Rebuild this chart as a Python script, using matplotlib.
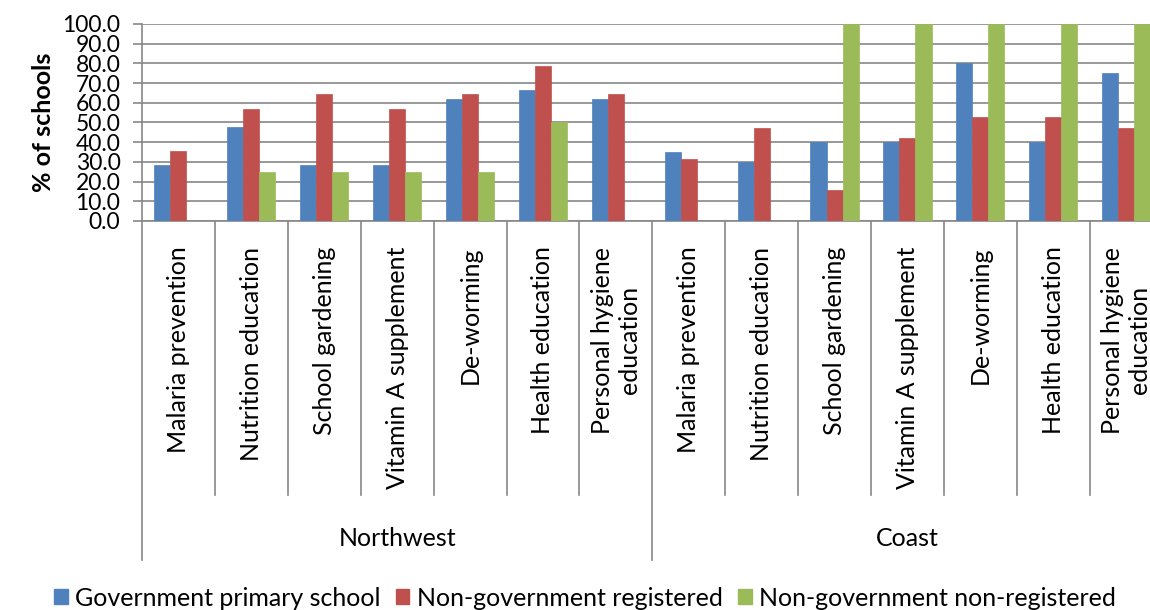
import numpy as np
import matplotlib
matplotlib.use("Agg")
import matplotlib.pyplot as plt
from matplotlib.patches import Patch

plt.rcParams['font.family'] = ['Lato', 'DejaVu Sans']

# Interventions shown for each region
activities = ["Malaria prevention", "Nutrition education", "School gardening",
              "Vitamin A supplement", "De-worming", "Health education",
              "Personal hygiene\neducation"]
regions = ["Northwest", "Coast"]

series_names = ["Government primary school", "Non-government registered",
                "Non-government non-registered"]

# % of schools offering each intervention (Northwest first, then Coast)
gov_primary = [28.6, 47.6, 28.6, 28.6, 61.9, 66.7, 61.9,
               35.0, 30.0, 40.0, 40.0, 80.0, 40.0, 75.0]
ngo_registered = [35.7, 57.1, 64.3, 57.1, 64.3, 78.6, 64.3,
                  31.6, 47.4, 15.8, 42.1, 52.6, 52.6, 47.4]
ngo_non_registered = [0.0, 25.0, 25.0, 25.0, 25.0, 50.0, 0.0,
                      0.0, 0.0, 100.0, 100.0, 100.0, 100.0, 100.0]

y_ticks = [0, 10, 20, 30, 40, 50, 60, 70, 80, 90, 100]

colors = ["#4F81BD", "#C0504D", "#9BBB59"]
grid_gray = "#878787"
fs = 18

fig = plt.figure(figsize=(11.5, 6.1), dpi=100)
ax = fig.add_axes([142 / 1150, 1 - 221 / 610, 1020.6 / 1150, 197 / 610])

labels = activities * len(regions)
n = len(labels)
x = np.arange(n)
w = 0.22
for i, (vals, c) in enumerate(zip([gov_primary, ngo_registered, ngo_non_registered], colors)):
    ax.bar(x + (i - 1) * w, vals, width=w, color=c, edgecolor=c, linewidth=0.5, zorder=3)

ax.set_xlim(-0.5, n - 0.5)
ax.set_ylim(0, 100)
ax.set_yticks(y_ticks)
ax.set_yticklabels([f"{v:.1f}" for v in y_ticks], fontsize=16.5)
ax.tick_params(axis='y', direction='out', length=6.5, width=1.2, color=grid_gray, pad=9)
ax.set_xticks([])
ax.yaxis.grid(True, color=grid_gray, linewidth=1.2, zorder=0)
ax.set_axisbelow(True)
for s in ["top", "right"]:
    ax.spines[s].set_visible(False)
for s in ["left", "bottom"]:
    ax.spines[s].set_color(grid_gray)
    ax.spines[s].set_linewidth(1.2)

ax.set_ylabel("% of schools", fontsize=fs, fontweight="bold")
ax.yaxis.set_label_coords(-0.085, 0.5)

# Category labels and separators below the axis
trans = ax.get_xaxis_transform()
per_region = len(activities)
for k in range(n + 1):
    edge = k - 0.5
    if k % per_region == 0:
        y_end = -1.72
    else:
        y_end = -1.39
    ax.plot([edge, edge], [0, y_end], transform=trans, color=grid_gray,
            linewidth=1.2, clip_on=False)
for k, lab in enumerate(labels):
    ax.text(k, -0.13, lab, transform=trans, rotation=90, ha="center", va="top",
            multialignment="center", fontsize=fs)
for r, name in enumerate(regions):
    center = r * per_region + (per_region - 1) / 2
    ax.text(center, -1.61, name, transform=trans, ha="center", va="center", fontsize=fs)

handles = [Patch(facecolor=c, edgecolor=c) for c in colors]
fig.legend(handles, series_names, loc="center", bbox_to_anchor=(585 / 1150, 1 - 598 / 610),
           ncol=3, frameon=False, fontsize=fs, handlelength=0.55, handleheight=0.55,
           handletextpad=0.3, columnspacing=0.6, borderaxespad=0)

fig.savefig("out.png", dpi=100)
